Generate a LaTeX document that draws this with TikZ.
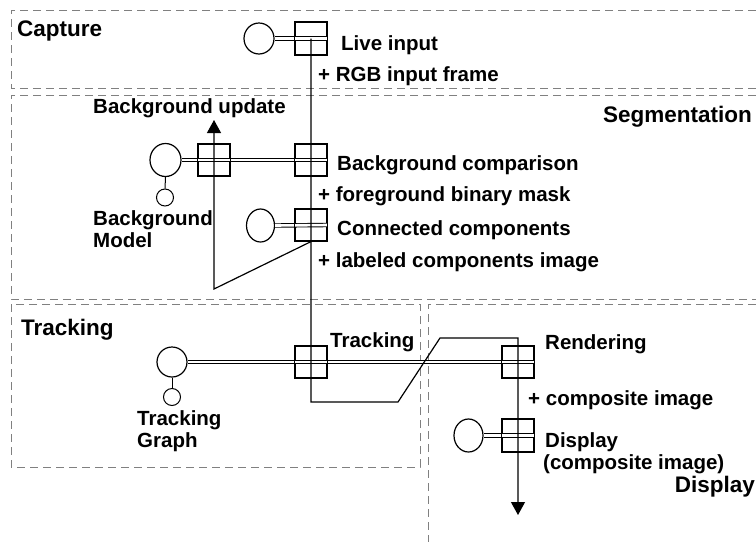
\documentclass[tikz,border=0pt]{standalone}
\usepackage{fontspec}
\setmainfont{Liberation Sans}
\usetikzlibrary{arrows.meta,shapes.geometric}
\begin{document}
\begin{tikzpicture}[x=1pt,y=-1pt,
  region/.style={draw=black!50, dash pattern=on 8pt off 5pt, line width=1pt},
  pbox/.style={draw, line width=1.2pt, minimum width=32pt, minimum height=32pt, inner sep=0pt},
  pcirc/.style={draw, ellipse, line width=1.2pt, inner sep=0pt},
  smallc/.style={draw, circle, line width=1pt, inner sep=0pt, minimum size=17pt},
  dbl/.style={draw, line width=0.9pt, double=white, double distance=2.6pt},
  flow/.style={draw, line width=1.2pt},
  tiplink/.style={-{Triangle[width=14pt,length=13pt]}},
  lab/.style={font=\bfseries\fontsize{20.5}{23}\selectfont, inner sep=0pt, anchor=base west},
  head/.style={font=\bfseries\fontsize{22.5}{25}\selectfont, inner sep=0pt}
]
\useasboundingbox (0,0) rectangle (756,542);

% regions
\draw[region] (756,10) -- (11,10) -- (11,88) -- (756,88);
\draw[region] (756,95) -- (11,95) -- (11,299) -- (756,299);
\draw[region] (11,304) rectangle (420,467);
\draw[region] (756,304) -- (428,304) -- (428,542);

\node[head, anchor=base west] (hcap) at (17,36.8) {Capture};
\node[head, anchor=base east] (hseg) at (752,122.5) {Segmentation};
\node[head, anchor=base west] (htrk) at (21,335) {Tracking};
\node[head, anchor=base east] (hdisp) at (755,492) {Display};

% nodes
\node[pbox] (live) at (311,38.5) {};
\node[pcirc, minimum width=30pt, minimum height=31pt] (livec) at (259,38.5) {};

\node[pbox] (bgupd) at (214,160) {};
\node[pbox] (bgcmp) at (311,160) {};
\node[pcirc, minimum width=31pt, minimum height=33pt] (bgm) at (165.5,160) {};
\node[smallc] (bgms) at (165,197.5) {};

\node[pbox] (cc) at (311,225) {};
\node[pcirc, minimum width=28pt, minimum height=33pt] (ccc) at (260.5,225.5) {};

\node[pbox] (trk) at (311,362) {};
\node[pcirc, minimum width=30pt, minimum height=30pt] (trkc) at (172,362) {};
\node[smallc] (trks) at (172,397) {};

\node[pbox] (rend) at (518,362) {};
\node[pbox] (disp) at (518,435.5) {};
\node[pcirc, minimum width=29pt, minimum height=33pt] (dispc) at (468.5,435.5) {};

% double links (drawn first)
\draw[dbl] (livec.east) -- (live.east);
\draw[dbl] (bgm.east) -- (bgcmp.east);
\draw[dbl] (ccc.east) -- (cc.east);
\draw[dbl] (trkc.east) -- (rend.east);
\draw[dbl] (dispc.east) -- (disp.east);

% redraw boxes over double lines
\foreach \n in {live,bgupd,bgcmp,cc,trk,rend,disp} \draw[line width=1.2pt] (\n.north west) rectangle (\n.south east);

\draw[line width=1pt] (bgm.south) -- (bgms.north);
\draw[line width=1pt] (trkc.south) -- (trks.north);

% main flow
\coordinate (c1) at (311,402);
\coordinate (c2) at (398,402);
\coordinate (c3) at (440,338);
\coordinate (c4) at (518,338);
\coordinate (endp) at (518,515);
\draw[flow, tiplink] (live.center) -- (bgcmp.center) -- (cc.center) -- (trk.center) -- (c1) -- (c2) -- (c3) -- (c4) -- (rend.center) -- (disp.center) -- (endp);

% background update
\coordinate (u1) at (214,289);
\coordinate (utip) at (214,120);
\draw[flow, tiplink] (cc.south) -- (u1) -- (bgupd.center) -- (utip);

% labels
\node[lab] (tlive) at (341,50.5) {Live input};
\node[lab] (trgb) at (318,81) {+ RGB input frame};
\node[lab] (tupd) at (93,113.5) {Background update};
\node[lab] (tcmp) at (337,170) {Background comparison};
\node[lab] (tfg) at (318,201) {+ foreground binary mask};
\node[lab] (tcc) at (337,235) {Connected components};
\node[lab] (tlbl) at (318,267) {+ labeled components image};
\node[lab] (tbm1) at (93,225) {Background};
\node[lab] (tbm2) at (93,247) {Model};
\node[lab] (ttrk) at (330,347) {Tracking};
\node[lab] (ttg1) at (137,425) {Tracking};
\node[lab] (ttg2) at (137,447) {Graph};
\node[lab] (trend) at (545,349) {Rendering};
\node[lab] (tcomp) at (528,405) {+ composite image};
\node[lab] (tdisp1) at (545,447) {Display};
\node[lab] (tdisp2) at (543,469.5) {(composite image)};
\end{tikzpicture}
\end{document}
